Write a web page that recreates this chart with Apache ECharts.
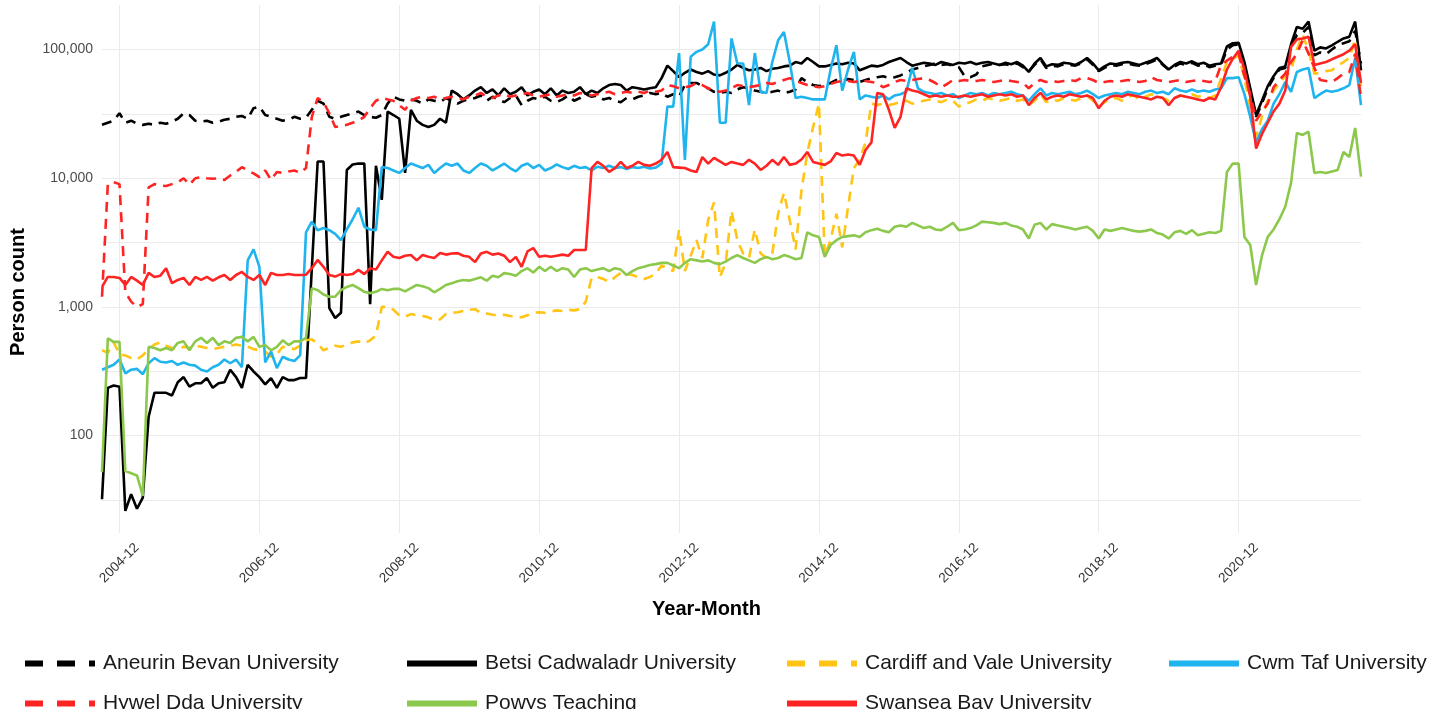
<!DOCTYPE html>
<html><head><meta charset="utf-8">
<script src="https://cdn.jsdelivr.net/npm/echarts@6/dist/echarts.min.js"></script>
<style>html,body{margin:0;padding:0;background:#fff}#c{width:1429px;height:709px}</style>
</head><body><div id="c"></div>
<script>
// Categories: monthly from 2004-09 to 2022-09
const months = [];
for (let y = 2004; y <= 2022; y++) {
  for (let m = 1; m <= 12; m++) {
    if ((y === 2004 && m < 9) || (y === 2022 && m > 9)) continue;
    months.push(y + '-' + String(m).padStart(2, '0'));
  }
}
const tickLabels = ['2004-12','2006-12','2008-12','2010-12','2012-12','2014-12','2016-12','2018-12','2020-12'];
const yTickLabels = [100, 1000, 10000, 100000];
const seriesNames = ['Aneurin Bevan University','Betsi Cadwaladr University','Cardiff and Vale University','Cwm Taf University','Hywel Dda University','Powys Teaching','Swansea Bay University'];

const aneurinBevan = [26000,27000,28000,32000,
 27000,28000,26500,26000,26500,26000,27000,26500,27500,29000,32000,31000,
 28000,27500,28000,27000,27500,28500,29000,30000,30500,29000,35000,36000,
 31000,30000,29000,28000,28500,30000,29000,29500,34000,40000,38000,30000,
 29000,30000,31000,32000,33000,31000,30000,29500,31000,38000,43000,41000,
 40000,41000,40000,38000,41000,40000,39000,42000,40000,38000,40000,41000,
 42000,44000,40000,43000,41000,39000,42000,44000,37000,40000,42000,41000,
 43000,40000,39000,41000,44000,40000,42000,45000,43000,44000,41000,42000,
 40000,39000,42000,41000,43000,44000,46000,45000,46000,43000,45000,43000,
 53000,55000,55000,52000,50000,47000,46000,47000,46000,49000,51000,50000,
 48000,47000,46000,47000,48000,46000,47000,49000,60000,56000,53000,52000,
 53000,55000,58000,57000,59000,58000,56000,58000,60000,61000,62000,60000,
 61000,63000,66000,70000,72000,74000,76000,78000,76000,77000,75000,73000,
 62000,61000,64000,74000,76000,78000,76000,77000,75000,78000,73000,68000,
 76000,84000,72000,75000,74000,77000,76000,75000,78000,84000,76000,68000,
 72000,76000,75000,77000,78000,76000,75000,77000,80000,84000,76000,70000,
 74000,78000,76000,79000,75000,77000,73000,75000,76000,100000,108000,110000,
 76000,48000,30000,38000,50000,60000,70000,72000,105000,130000,135000,150000,
 90000,95000,92000,100000,108000,112000,116000,140000,78000];

const betsiCadwaladr = [32,235,245,240,
 26,35,27,33,140,215,215,215,205,260,285,240,
 255,255,280,235,255,260,325,285,235,355,315,285,
 250,280,235,285,270,270,280,280,2000,13500,13500,980,
 820,900,11600,12800,13000,13000,1050,12500,6800,33000,31000,29000,
 11000,34000,28000,26000,25000,26000,29000,27000,48000,45000,41000,44000,
 48000,51000,46000,49000,44000,50000,45000,47000,51000,44000,47000,49000,
 45000,50000,44000,48000,46000,47000,51000,45000,48000,46000,50000,53000,
 54000,53000,48000,51000,50000,49000,50000,51000,60000,75000,68000,61000,
 66000,70000,67000,65000,68000,64000,63000,66000,70000,76000,72000,69000,
 70000,72000,68000,71000,72000,74000,75000,80000,78000,86000,80000,74000,
 74000,76000,78000,77000,79000,78000,69000,72000,75000,74000,76000,80000,
 83000,86000,80000,75000,77000,79000,78000,76000,80000,78000,76000,79000,
 78000,80000,77000,79000,80000,78000,76000,79000,77000,80000,75000,67000,
 78000,86000,74000,77000,76000,79000,78000,76000,80000,86000,78000,69000,
 74000,78000,77000,79000,80000,78000,76000,79000,82000,86000,77000,70000,
 76000,80000,78000,81000,77000,79000,75000,77000,78000,106000,112000,113000,
 80000,50000,31000,40000,52000,62000,72000,74000,110000,150000,145000,165000,
 98000,104000,102000,108000,115000,122000,126000,165000,69000];

const cardiffVale = [460,440,530,430,
 420,400,390,420,470,510,530,500,480,470,490,480,
 500,490,480,470,480,490,500,510,500,490,470,460,
 450,410,430,490,480,470,500,550,560,520,460,480,
 500,490,510,530,540,520,550,600,1000,1000,950,860,
 840,880,860,850,830,790,800,880,900,910,930,950,
 960,900,890,870,860,870,850,840,830,860,900,910,
 900,920,940,930,950,940,960,1100,1680,1700,1650,1560,
 1700,1840,1800,1770,1700,1650,1710,1800,2100,2000,1900,4000,
 1900,2500,3300,2400,4750,6500,1700,2200,5600,3300,2600,2400,
 4000,2600,2400,2600,5300,7700,4700,2800,8000,15700,25000,38000,
 2500,3300,5300,2900,6000,12000,14000,19000,38000,37000,38000,37000,
 38000,39000,40000,38000,39000,40000,41000,40000,39000,41000,40000,36000,
 38000,39000,41000,40000,42000,41000,40000,41000,42000,40000,41000,37000,
 40000,45000,39000,41000,40000,42000,41000,40000,42000,44000,40000,36000,
 39000,41000,42000,40000,43000,44000,41000,43000,45000,44000,42000,40000,
 42000,44000,43000,45000,43000,44000,42000,44000,60000,80000,85000,90000,
 60000,35000,21000,30000,40000,48000,55000,62000,69000,100000,130000,98000,
 65000,66000,68000,69000,75000,80000,86000,120000,51000];

const cwmTaf = [325,340,355,390,
 305,325,330,300,365,400,375,370,380,355,370,355,
 350,325,315,340,355,390,365,390,340,2300,2800,2050,
 370,450,335,410,390,380,420,3800,4600,3950,4100,3950,
 3700,3300,4000,4800,5900,4200,4000,3950,12200,12000,11500,11000,
 12000,13000,12500,12000,12700,11000,12000,13000,12500,13000,11500,11000,
 12000,13000,12500,11500,12200,13000,12000,11300,12500,13000,12000,12700,
 11500,12000,12800,12200,11800,12500,12000,12200,11500,12300,12000,12500,
 12000,12200,11800,12200,12000,12300,11900,12100,13000,36000,36000,94000,
 13900,88000,96000,100000,110000,165000,27000,27000,122000,78000,78000,37000,
 94000,47000,46000,80000,118000,137000,80000,42000,43000,42000,41000,41000,
 41000,70000,108000,48000,70000,96000,41000,44000,43000,42000,44000,41000,
 44000,45000,47000,72000,50000,47000,46000,45000,46000,44000,45000,42000,
 44000,46000,45000,46000,44000,46000,45000,46000,47000,45000,44000,40000,
 45000,50000,44000,46000,45000,46000,47000,45000,46000,48000,45000,42000,
 44000,45000,46000,45000,47000,46000,45000,47000,48000,46000,47000,45000,
 50000,48000,47000,49000,47000,48000,47000,49000,50000,60000,60000,61000,
 45000,30000,19000,24000,28000,38000,45000,56000,47000,67000,70000,72000,
 42000,45000,48000,47000,48000,50000,53000,86000,37000];

const hywelDda = [1200,9000,9300,9000,
 1300,1100,1000,1050,8500,9000,8800,8700,9000,9300,10000,8900,
 10000,10200,10000,9900,10000,9700,10500,11200,12200,11500,10900,10200,
 11500,9700,11200,11000,11300,11500,11000,12000,30000,42000,39000,32000,
 25000,25500,26000,27000,28000,30000,35000,40000,42000,41000,40000,37000,
 34000,40000,42000,43000,42000,43000,41000,42000,43000,42000,41000,43000,
 44000,46000,43000,42000,44000,45000,43000,44000,45000,46000,44000,43000,
 44000,45000,43000,44000,45000,44000,46000,45000,44000,45000,46000,47000,
 45000,46000,47000,46000,47000,46000,48000,47000,48000,53000,52000,50000,
 51000,52000,55000,53000,50000,48000,47000,48000,50000,53000,52000,51000,
 52000,53000,55000,54000,56000,58000,60000,57000,55000,53000,52000,51000,
 52000,54000,56000,57000,57000,56000,57000,57000,56000,55000,51000,53000,
 56000,58000,57000,58000,59000,60000,58000,55000,51000,54000,58000,57000,
 58000,57000,57000,58000,57000,56000,57000,58000,57000,56000,55000,50000,
 55000,58000,56000,57000,56000,57000,58000,57000,60000,60000,58000,55000,
 56000,57000,56000,57000,58000,57000,56000,57000,61000,58000,57000,56000,
 57000,58000,56000,57000,58000,57000,56000,57000,76000,82000,88000,93000,
 62000,45000,28000,33000,38000,51000,58000,65000,80000,93000,118000,93000,
 72000,58000,57000,56000,60000,65000,67000,93000,42000];

const powysTeaching = [52,570,535,535,
 53,51,49,34,490,480,460,480,460,525,540,460,
 540,575,525,575,505,540,525,575,585,540,585,490,
 505,460,490,550,505,540,540,575,1400,1350,1250,1200,
 1200,1350,1430,1480,1400,1310,1280,1310,1380,1350,1380,1380,
 1320,1400,1480,1450,1400,1300,1380,1480,1530,1580,1620,1600,
 1650,1700,1600,1750,1700,1830,1800,1750,1900,2000,1850,2050,
 1900,2050,1900,2000,1950,1710,1950,2000,1900,1950,2000,1900,
 2000,1950,1770,1900,2000,2050,2120,2150,2200,2200,2100,2000,
 2200,2350,2300,2250,2300,2200,2150,2250,2400,2530,2400,2300,
 2200,2350,2450,2350,2400,2530,2450,2350,2400,3800,3600,3500,
 2450,3030,3300,3500,3550,3600,3500,3800,3950,4050,3900,3800,
 4200,4300,4200,4500,4300,4100,4200,4000,3950,4200,4500,3950,
 4000,4100,4300,4600,4550,4500,4400,4500,4300,4200,4000,3400,
 4350,4500,4000,4400,4300,4200,4100,4000,4100,4200,3900,3400,
 4000,3900,4000,4100,4000,3900,3850,3900,4000,3750,3650,3400,
 3800,3900,3700,3950,3600,3700,3800,3750,3900,11200,13000,13000,
 3500,3030,1480,2500,3500,4000,4800,6000,9200,22500,21700,23000,
 11000,11200,11000,11300,11600,16000,14600,24600,10300];

const swanseaBay = [1430,1710,1710,1680,
 1480,1710,1600,1480,1840,1710,1750,2000,1530,1620,1680,1480,
 1710,1620,1710,1600,1700,1770,1620,1770,1870,1710,1620,1770,
 1480,1840,1770,1770,1800,1770,1770,1780,2000,2320,2050,1770,
 1720,1800,1770,1800,1940,1800,2000,1950,2300,2680,2450,2400,
 2500,2530,2300,2530,2450,2400,2620,2550,2600,2620,2500,2450,
 2230,2600,2680,2550,2600,2500,2230,2450,2050,2700,2870,2450,
 2500,2450,2500,2550,2500,2770,2770,2770,12000,13400,12500,11200,
 12000,13400,12000,12500,13400,12700,12500,13000,13900,16000,12200,12100,
 12000,11500,11200,14600,13000,14400,13500,12700,13400,13000,12700,13900,
 13000,11600,12500,13900,12700,14600,12700,13000,14000,16000,13400,13000,
 12700,13500,15700,15000,15300,15000,12700,16600,19000,46000,45000,34000,
 24600,30000,50000,48000,47000,45000,43000,44000,43000,44000,43000,43000,
 44000,43000,44000,45000,43000,44000,45000,44000,45000,43000,44000,37000,
 42000,46000,41000,43000,44000,43000,45000,44000,43000,44000,42000,35000,
 40000,43000,44000,43000,45000,44000,43000,42000,41000,43000,42000,37000,
 42000,44000,43000,42000,41000,40000,42000,41000,51000,70000,85000,98000,
 70000,43000,17000,22000,27000,33000,38000,48000,105000,120000,122000,126000,
 76000,78000,80000,84000,88000,92000,98000,110000,55000];

const seriesValues = [aneurinBevan, betsiCadwaladr, cardiffVale, cwmTaf, hywelDda, powysTeaching, swanseaBay];
const seriesColors = ['#000000','#000000','#FFC414','#1FB4EE','#FF2424','#8CC84B','#FF2424'];
const seriesDashed = [true,false,true,false,true,false,false];

const FONT = '"Liberation Sans", Arial, sans-serif';
const chart = echarts.init(document.getElementById('c'), null, {renderer: 'canvas'});

const showTick = (idx, val) => tickLabels.indexOf(val) >= 0;

const legendPos = [[22,653],[404,653],[784,653],[1166,653],[22,693],[404,693],[784,693]];
const legends = seriesNames.map((name, i) => ({
  left: legendPos[i][0], top: legendPos[i][1],
  orient: 'horizontal',
  padding: 0,
  itemWidth: 70, itemHeight: 20,
  selectedMode: false,
  data: [name],
  itemStyle: { color: 'rgba(0,0,0,0)', borderColor: 'rgba(0,0,0,0)', borderWidth: 0, opacity: 0 },
  lineStyle: { width: 6, type: seriesDashed[i] ? [18, 14] : 'solid', cap: 'butt' },
  textStyle: { fontSize: 21, color: '#1a1a1a', fontFamily: FONT, padding: [0, 0, 0, 3] }
}));

const series = seriesNames.map((name, i) => ({
  name: name,
  type: 'line',
  data: seriesValues[i],
  symbol: 'none',
  showSymbol: false,
  smooth: false,
  clip: true,
  color: seriesColors[i],
  lineStyle: { color: seriesColors[i], width: 2.6, type: seriesDashed[i] ? [10, 7] : 'solid' },
  emphasis: { disabled: true },
  z: 2 + i
}));

chart.setOption({
  animation: false,
  backgroundColor: '#ffffff',
  textStyle: { fontFamily: FONT },
  grid: { left: 101, right: 68, top: 5, bottom: 176, containLabel: false },
  legend: legends,
  xAxis: {
    type: 'category',
    data: months,
    boundaryGap: false,
    name: 'Year-Month',
    nameLocation: 'middle',
    nameGap: 66,
    nameTextStyle: { fontSize: 20, fontWeight: 'bold', color: '#000', fontFamily: FONT, padding: [0, 50, 0, 0] },
    axisLine: { show: false },
    axisTick: { show: false, interval: showTick },
    axisLabel: {
      interval: showTick, rotate: 45, align: 'center', verticalAlign: 'middle',
      margin: 30, fontSize: 13.5, color: '#333333', fontFamily: FONT
    },
    splitLine: { show: true, interval: showTick, lineStyle: { color: '#ebebeb', width: 1 } }
  },
  yAxis: {
    type: 'log',
    logBase: Math.sqrt(10),
    min: 17.5,
    max: 222000,
    splitNumber: 10,
    name: 'Person count',
    nameLocation: 'middle',
    nameGap: 74,
    nameRotate: 90,
    nameTextStyle: { fontSize: 20, fontWeight: 'bold', color: '#000', fontFamily: FONT, padding: [0, 46, 0, 0] },
    axisLine: { show: false },
    axisTick: { show: false },
    axisLabel: {
      margin: 9, fontSize: 14, color: '#4d4d4d', fontFamily: FONT,
      formatter: function (v) {
        for (const t of yTickLabels) {
          if (Math.abs(v - t) / t < 1e-6) return t.toLocaleString('en-US');
        }
        return '';
      }
    },
    splitLine: { show: true, showMinLine: false, showMaxLine: false, lineStyle: { color: '#ebebeb', width: 1 } }
  },
  series: series
});
</script>
</body></html>
